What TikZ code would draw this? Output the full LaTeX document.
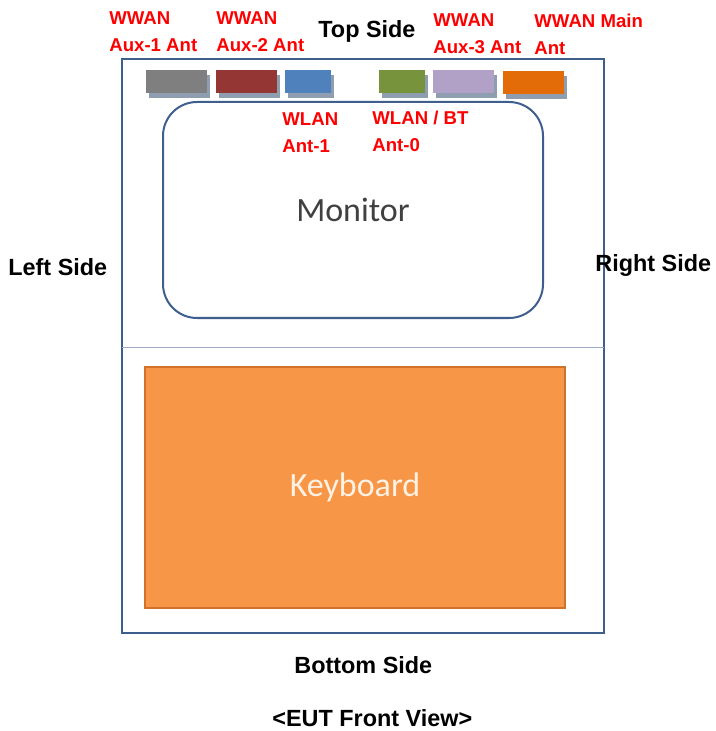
\documentclass[tikz,border=0pt]{standalone}
\usepackage{fontspec}
\setmainfont{Liberation Sans}
\newfontfamily\calib{Carlito}
\usetikzlibrary{shadows}
\definecolor{framec}{HTML}{3E5E8E}
\definecolor{sepc}{HTML}{9AAAC4}
\definecolor{shadc}{HTML}{8F9DB0}
\definecolor{auxonec}{HTML}{7F7F7F}
\definecolor{auxtwoc}{HTML}{943634}
\definecolor{wlanonec}{HTML}{4F81BD}
\definecolor{wlanzeroc}{HTML}{77933C}
\definecolor{auxthreec}{HTML}{B2A1C7}
\definecolor{mainc}{HTML}{E36C09}
\definecolor{keyc}{HTML}{F79646}
\definecolor{keyedgec}{HTML}{D2712A}
\tikzset{
	antbox/.style={inner sep=0,minimum height=11.5pt,
		drop shadow={shadow xshift=1.5pt,shadow yshift=-2.5pt,fill=shadc,opacity=1}},
	antlabel/.style={anchor=north west,inner sep=0,align=left,text=red,
		font=\fontsize{9.3}{13.5}\selectfont\bfseries},
	sidelabel/.style={anchor=base west,inner sep=0,
		font=\fontsize{11.7}{14}\selectfont\bfseries}
}
\begin{document}
\begin{tikzpicture}[x=0.5pt,y=-0.5pt]
	\useasboundingbox (0,0) rectangle (715,731);
	\draw (363,346) node (eut)[draw=framec,line width=1.3pt,minimum width=241pt,minimum height=287pt]{};
	\draw[sepc,line width=0.5pt] (122,347) -- (604,347);

	\draw (353,210) node (mon)[draw=framec,line width=1pt,rounded corners=17pt,minimum width=190pt,minimum height=108pt,text=black!75,font=\calib\fontsize{17}{20}\selectfont]{\raisebox{-1pt}{Monitor}};
	\draw (355,487.5) node (kbd)[draw=keyedgec,fill=keyc,line width=0.6pt,minimum width=210pt,minimum height=120.5pt,text=orange!10,font=\calib\fontsize{17}{20}\selectfont]{\raisebox{-2.5pt}{Keyboard}};

	\draw (176.5,81.5) node (a1)[antbox,fill=auxonec,minimum width=30.5pt]{};
	\draw (246.5,81.5) node (a2)[antbox,fill=auxtwoc,minimum width=30.5pt]{};
	\draw (308,81.5) node (w1)[antbox,fill=wlanonec,minimum width=23pt]{};
	\draw (402,81.5) node (w0)[antbox,fill=wlanzeroc,minimum width=23pt]{};
	\draw (463.5,81.5) node (a3)[antbox,fill=auxthreec,minimum width=30.5pt]{};
	\draw (533.5,82.5) node (am)[antbox,fill=mainc,minimum width=30.5pt]{};

	\draw (109,11) node (la1)[antlabel]{WWAN\\Aux-1 Ant};
	\draw (216,11) node (la2)[antlabel]{WWAN\\Aux-2 Ant};
	\draw (433,13) node (la3)[antlabel]{WWAN\\Aux-3 Ant};
	\draw (534,14) node (lam)[antlabel]{WWAN Main\\Ant};
	\draw (282,112) node (lw1)[antlabel]{WLAN\\Ant-1};
	\draw (372,111) node (lw0)[antlabel]{WLAN / BT\\Ant-0};

	\draw (318,38) node (top)[sidelabel]{Top Side};
	\draw (8,276) node (left)[sidelabel]{Left Side};
	\draw (595,272) node (right)[sidelabel]{Right Side};
	\draw (294,673) node (bottom)[sidelabel]{Bottom Side};
	\draw (272,726) node (view)[sidelabel]{<EUT Front View>};
\end{tikzpicture}
\end{document}
